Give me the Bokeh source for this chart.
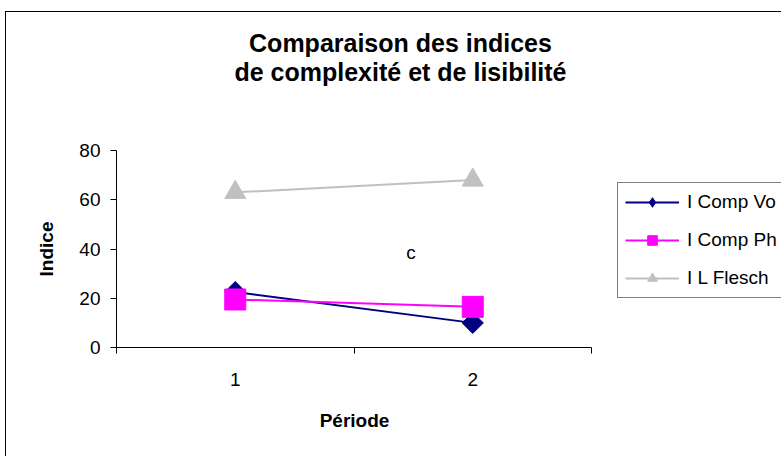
from bokeh.plotting import figure
from bokeh.models import Range1d, FixedTicker, Legend, LegendItem, Label
from bokeh.embed import file_html
from bokeh.resources import INLINE
import numpy as np

# ---- data ----
periods = [1, 2]
i_comp_vo = [22.5, 10.0]
i_comp_ph = [19.5, 16.5]
il_flesch = [63.0, 68.0]
y_ticks = [0, 20, 40, 60, 80]
category_bounds = [0.5, 1.5, 2.5]
series_names = ["I Comp Vo", "I Comp Ph", "I L Flesch"]
title_text = "Comparaison des indices\nde complexité et de lisibilité"
x_title = "Période"
y_title = "Indice"
note_text = "c"
note_pos = (1.74, 38.6)

FONT = "Liberation Sans"
NAVY = "#000080"
MAGENTA = "#FF00FF"
GRAY = "#C0C0C0"

# plot area spans 116..591 px for the categories; the frame continues to the
# right edge so the legend (inside the frame) is not clipped
PLOT_W = 475
FRAME_W = 781 - 116
x_end = category_bounds[0] + (category_bounds[-1] - category_bounds[0]) * FRAME_W / PLOT_W

p = figure(width=781, height=456, output_backend="svg", toolbar_location=None,
           x_range=Range1d(category_bounds[0], x_end), y_range=Range1d(0, 80),
           min_border_left=116, min_border_right=0,
           min_border_top=150, min_border_bottom=109)
p.background_fill_color = "white"
p.border_fill_alpha = 0
p.outline_line_color = None
p.xgrid.visible = False
p.ygrid.visible = False
# chart-area border (top and left edges) drawn behind the transparent canvas border
p.styles = {
    "background": ("linear-gradient(#000, #000) 5px 11px / 1px 100% no-repeat, "
                   "linear-gradient(#000, #000) 5px 11px / 100% 1px no-repeat, #fff"),
}

# axes
xa = p.xaxis[0]
xa.bounds = (category_bounds[0], category_bounds[-1])
xa.ticker = FixedTicker(ticks=periods, minor_ticks=category_bounds)
xa.major_tick_out = 0
xa.major_tick_in = 0
xa.minor_tick_out = 6
xa.minor_tick_in = 0
xa.minor_tick_line_color = "black"
xa.axis_line_color = "black"
xa.major_label_standoff = 19
xa.major_label_text_font = FONT
xa.major_label_text_font_size = "19px"
xa.major_label_text_color = "black"

ya = p.yaxis[0]
ya.ticker = FixedTicker(ticks=y_ticks, minor_ticks=[])
ya.major_tick_out = 6
ya.major_tick_in = 0
ya.major_tick_line_color = "black"
ya.axis_line_color = "black"
ya.major_label_standoff = 10
ya.major_label_text_font = FONT
ya.major_label_text_font_size = "19px"
ya.major_label_text_color = "black"
ya.axis_label = y_title
ya.axis_label_text_font = FONT
ya.axis_label_text_font_size = "19px"
ya.axis_label_text_font_style = "bold"
ya.axis_label_text_color = "black"
ya.axis_label_standoff = 19

# x-axis title, centred under the category span (below the tick labels)
p.add_layout(Label(x=238, y=0, x_units="screen", y_units="screen",
                   text=x_title, text_align="center", text_baseline="top",
                   text_font=FONT, text_font_size="19px", text_font_style="bold",
                   text_color="black"), "below")

# series
l1 = p.line(periods, i_comp_vo, line_color=NAVY, line_width=2)
s1s = p.scatter(periods, i_comp_vo, marker="diamond", size=14,
                fill_color=NAVY, line_color=NAVY)
s1 = p.scatter(periods, i_comp_vo, marker="square", angle=np.pi / 4, size=15,
               fill_color=NAVY, line_color=NAVY)
l2 = p.line(periods, i_comp_ph, line_color=MAGENTA, line_width=2)
s2s = p.scatter(periods, i_comp_ph, marker="square", size=13,
                fill_color=MAGENTA, line_color=MAGENTA)
s2 = p.scatter(periods, i_comp_ph, marker="square", size=21,
               fill_color=MAGENTA, line_color=MAGENTA)
l3 = p.line(periods, il_flesch, line_color=GRAY, line_width=2)
s3s = p.scatter(periods, il_flesch, marker="triangle", size=15,
                fill_color=GRAY, line_color=GRAY)
s3 = p.scatter(periods, il_flesch, marker="triangle", size=21,
               fill_color=GRAY, line_color=GRAY)

legend = Legend(items=[
    LegendItem(label=series_names[0], renderers=[l1, s1s]),
    LegendItem(label=series_names[1], renderers=[l2, s2s]),
    LegendItem(label=series_names[2], renderers=[l3, s3s]),
], location=(501, 49), padding=7, spacing=14, glyph_width=54, glyph_height=24,
   label_height=24, label_standoff=8, margin=0,
   border_line_color="black", border_line_width=1, background_fill_color="white",
   label_text_font=FONT, label_text_font_size="19px", label_text_color="black")
p.add_layout(legend, "center")

# title, centred on the chart area
p.add_layout(Label(x=284, y=93, x_units="screen", y_units="screen",
                   text=title_text, text_align="center", text_baseline="middle",
                   text_line_height=1.05,
                   text_font=FONT, text_font_size="25px", text_font_style="bold",
                   text_color="black"), "above")

p.add_layout(Label(x=note_pos[0], y=note_pos[1], text=note_text, text_align="center",
                   text_baseline="middle", text_font=FONT, text_font_size="19px",
                   text_color="black"))

open("out.html", "w").write(file_html(p, INLINE))
